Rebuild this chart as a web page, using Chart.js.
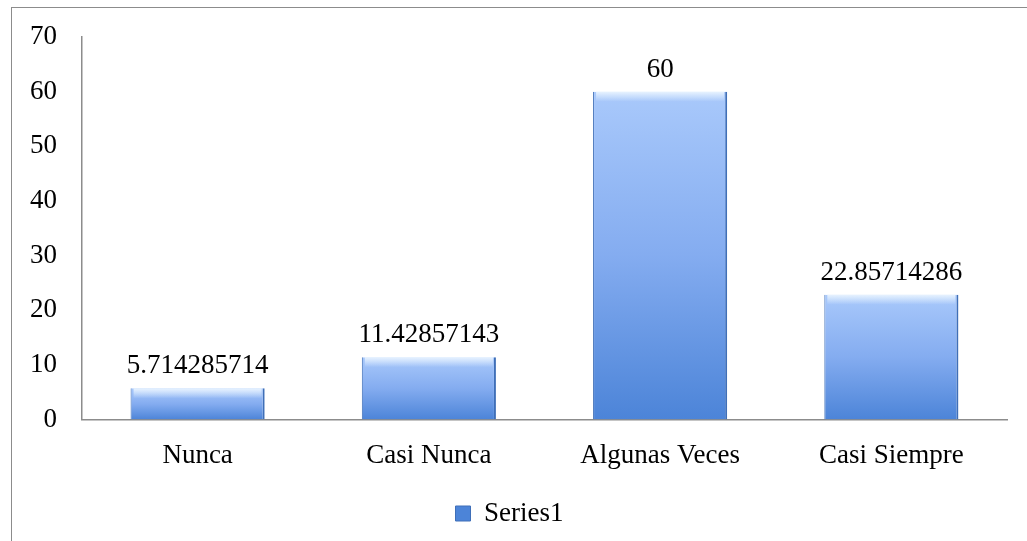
<!DOCTYPE html>
<html>
<head>
<meta charset="utf-8">
<script src="https://cdn.jsdelivr.net/npm/chart.js"></script>
<style>
  body { margin: 0; background: #fff; }
  #box { position: absolute; left: 11px; top: 7px; width: 1016px; height: 534px;
         border-left: 1px solid #8c8c8c; border-top: 1px solid #8c8c8c; }
</style>
</head>
<body>
<div id="box"><canvas id="chart"></canvas></div>
<script>
    // values
    const categories = ['Nunca', 'Casi Nunca', 'Algunas Veces', 'Casi Siempre'];
    const seriesValues = [5.714285714, 11.42857143, 60, 22.85714286];
    const seriesName = 'Series1';
    const yTicks = [0, 10, 20, 30, 40, 50, 60, 70];

    const fontFamily = '"Liberation Serif", serif';
    const fontSize = 27;

    // gradient for each bar, from its top to the base line
    function barFill(context) {
        const chart = context.chart;
        const y = chart.scales.y;
        if (!y || context.parsed === undefined) return '#6b9be3';
        const top = y.getPixelForValue(context.parsed.y);
        const base = y.getPixelForValue(0);
        const g = chart.ctx.createLinearGradient(0, top, 0, base);
        g.addColorStop(0, '#a9c9fb');
        g.addColorStop(0.5, '#84acf0');
        g.addColorStop(1, '#4c84d8');
        return g;
    }

    // value labels + top highlight on bars
    const barExtras = {
        id: 'barExtras',
        afterDatasetsDraw(chart) {
            const ctx = chart.ctx;
            const meta = chart.getDatasetMeta(0);
            ctx.save();
            meta.data.forEach((bar, i) => {
                const left = bar.x - bar.width / 2;
                // top bevel
                const hl = ctx.createLinearGradient(0, bar.y, 0, bar.y + 10);
                hl.addColorStop(0, 'rgba(235,245,255,0.95)');
                hl.addColorStop(1, 'rgba(235,245,255,0)');
                ctx.fillStyle = hl;
                ctx.fillRect(left + 3, bar.y, bar.width - 6, 10);
                // value label
                ctx.fillStyle = '#000';
                ctx.font = fontSize + 'px ' + fontFamily;
                ctx.textAlign = 'center';
                ctx.textBaseline = 'alphabetic';
                ctx.fillText(String(seriesValues[i]), bar.x, bar.y - 15);
            });
            ctx.restore();
        }
    };

    const ctx = document.getElementById('chart').getContext('2d');
    new Chart(ctx, {
        type: 'bar',
        data: {
            labels: categories,
            datasets: [{
                label: seriesName,
                data: seriesValues,
                backgroundColor: barFill,
                borderColor: '#3f6fb8',
                borderWidth: { left: 1, right: 2, top: 0, bottom: 0 },
                categoryPercentage: 1,
                barPercentage: 0.58
            }]
        },
        options: {
            responsive: true,
            maintainAspectRatio: false,
            animation: false,
            layout: { padding: { top: 29, right: 21, bottom: 5, left: 0 } },
            plugins: {
                legend: {
                    position: 'bottom',
                    labels: {
                        color: '#000',
                        font: { family: fontFamily, size: fontSize },
                        boxWidth: 15,
                        boxHeight: 15,
                        padding: 8,
                        generateLabels: chart => [{
                            text: seriesName,
                            fillStyle: '#4c84d8',
                            strokeStyle: '#3f6fb8',
                            lineWidth: 1,
                            datasetIndex: 0
                        }]
                    }
                },
                tooltip: { enabled: false }
            },
            scales: {
                x: {
                    grid: { display: false, drawTicks: false },
                    border: { color: '#8c8c8c', width: 1.5 },
                    ticks: { color: '#000', font: { family: fontFamily, size: fontSize }, padding: 20 }
                },
                y: {
                    min: 0,
                    max: 70,
                    afterFit: scale => {
                        scale.width = 70;
                        scale.paddingTop = 0;
                        scale.paddingBottom = 0;
                    },
                    afterBuildTicks: scale => { scale.ticks = yTicks.map(v => ({ value: v })); },
                    grid: { display: false, drawTicks: false },
                    border: { color: '#8c8c8c', width: 1.5 },
                    ticks: { color: '#000', font: { family: fontFamily, size: fontSize }, padding: 25 }
                }
            }
        },
        plugins: [barExtras]
    });
</script>
</body>
</html>
